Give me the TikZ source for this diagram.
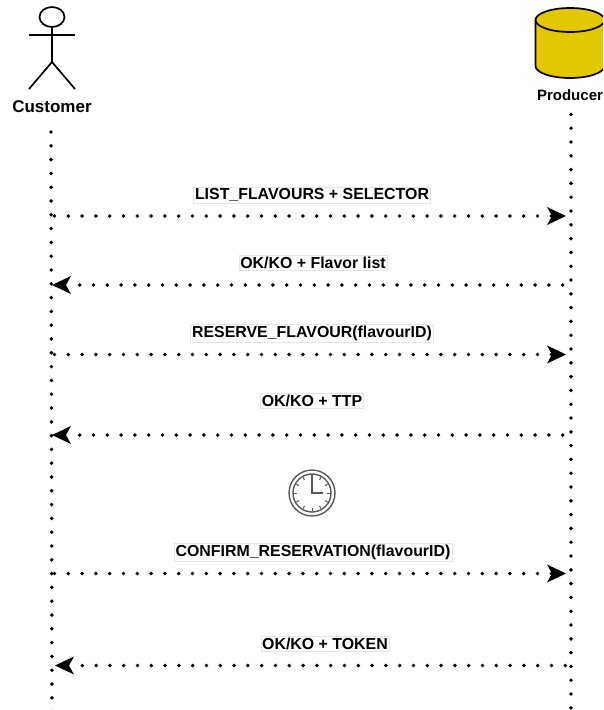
\documentclass[tikz,border=0pt]{standalone}
\usepackage{fontspec}
\setmainfont{Liberation Sans}
\usetikzlibrary{arrows.meta,positioning,calc,shapes.geometric}

\begin{document}
\begin{tikzpicture}[x=1pt, y=-1pt, font=\fontsize{15.9}{18}\selectfont\bfseries,
  lifeline/.style={draw=black, line width=3.9pt, line cap=round, dash pattern=on 0pt off 13.8pt},
  msg/.style={draw=black, line width=3.9pt, line cap=round, dash pattern=on 0pt off 13.8pt, -{Stealth[length=19pt, width=18pt, inset=5pt, line width=0pt]}},
  msglabel/.style={fill=white, draw=black!10, line width=0.4pt, inner sep=1.5pt},
  actorline/.style={draw=black, line width=1.7pt},
  clockline/.style={draw=black!65, line width=1.4pt}]
  \definecolor{dbyellow}{HTML}{E3C800}
  \useasboundingbox (0,0) rectangle (603,710);
  \clip (0,0) rectangle (603,710);
  % participants
  \node[draw=black, ellipse, line width=1.7pt, minimum width=25pt, minimum height=20pt, inner sep=0pt] (head) at (52,17) {};
  \coordinate (hip) at (52,62);
  \coordinate (armL) at (29,35);
  \coordinate (armR) at (75,35);
  \coordinate (footL) at (29,89);
  \coordinate (footR) at (75,89);
  \draw[actorline] (head.south) -- (hip);
  \draw[actorline] (armL) -- (armR);
  \draw[actorline] (footL) -- (hip) -- (footR);
  \node[font=\fontsize{17}{18}\selectfont\bfseries] (customer) at (52,107) {Customer};
  \draw[actorline, fill=dbyellow] (535.5,20) -- (535.5,66) arc[start angle=180, end angle=0, x radius=34.5, y radius=12] -- (604.5,20) arc[start angle=0, end angle=-180, x radius=34.5, y radius=12] -- cycle;
  \draw[actorline] (535.5,20) arc[start angle=180, end angle=0, x radius=34.5, y radius=12];
  \node[font=\fontsize{15}{18}\selectfont\bfseries, inner sep=0pt] (producer) at (570,95) {Producer};
  % lifelines
  \coordinate (custTop) at (51,132);
  \coordinate (custEnd) at (52,712);
  \coordinate (prodTop) at (571,114.4);
  \coordinate (prodEnd) at (571,712);
  \draw[lifeline] (custTop) -- (custEnd);
  \draw[lifeline] (prodTop) -- (prodEnd);
  % messages
  \coordinate (m1a) at (51,216);     \coordinate (m1b) at (566,216);
  \coordinate (m2a) at (571,285);    \coordinate (m2b) at (52,285);
  \coordinate (m3a) at (51,354.5);   \coordinate (m3b) at (566,354.5);
  \coordinate (m4a) at (571,435);    \coordinate (m4b) at (52,435);
  \coordinate (m5a) at (51,573.5);   \coordinate (m5b) at (566,573.5);
  \coordinate (m6a) at (571,665.5);  \coordinate (m6b) at (55,665.5);
  \draw[msg, dash phase=10.3pt] (m1a) -- (m1b);
  \draw[msg, dash phase=5.5pt] (m2a) -- (m2b);
  \draw[msg, dash phase=10.3pt] (m3a) -- (m3b);
  \draw[msg, dash phase=5.5pt] (m4a) -- (m4b);
  \draw[msg, dash phase=10.3pt] (m5a) -- (m5b);
  \draw[msg, dash phase=8.1pt] (m6a) -- (m6b);
  \node[msglabel] (l1) at (312,195) {LIST\_FLAVOURS + SELECTOR};
  \node[msglabel] (l2) at (313,263) {OK/KO + Flavor list};
  \node[msglabel] (l3) at (312,333) {RESERVE\_FLAVOUR(flavourID)};
  \node[msglabel] (l4) at (312,401) {OK/KO + TTP};
  \node[msglabel] (l5) at (313,552) {CONFIRM\_RESERVATION(flavourID)};
  \node[msglabel] (l6) at (325,644) {OK/KO + TOKEN};
  % clock
  \node[circle, clockline, minimum size=46pt, inner sep=0pt] (clock) at (312,493) {};
  \node[circle, clockline, minimum size=38pt, inner sep=0pt] (dial) at (clock) {};
  \foreach \a in {0,30,...,330}
    \draw[clockline, line width=1pt] ($(clock)+(\a:15)$) -- ($(clock)+(\a:18)$);
  \draw[clockline] ($(clock)+(0,-18)$) -- (clock.center) -- ($(clock)+(11,0)$);
\end{tikzpicture}
\end{document}
